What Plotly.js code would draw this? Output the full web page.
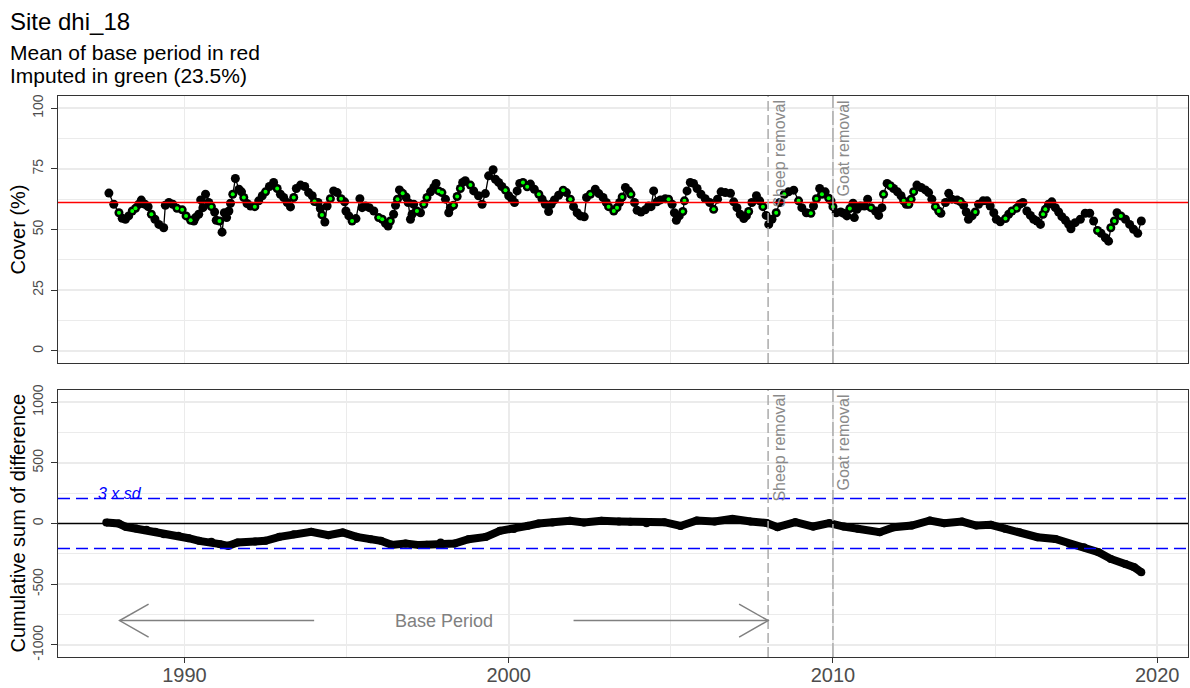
<!DOCTYPE html>
<html><head><meta charset="utf-8">
<script src="https://cdn.plot.ly/plotly-3.0.1.min.js"></script>
<style>html,body{margin:0;padding:0;background:#fff}#chart{width:1190px;height:688px}</style>
</head><body><div id="chart"></div>
<script>
// ---- data ----
const coverDates = [
1987.67,1987.82,1987.98,1988.08,1988.18,1988.28,1988.39,1988.49,1988.59,1988.67,1988.78,1988.88,1988.98,
1989.09,1989.21,1989.36,1989.41,1989.52,1989.64,1989.77,1989.93,1990.05,1990.19,1990.29,1990.34,1990.44,
1990.50,1990.57,1990.65,1990.75,1990.83,1990.93,1990.98,1991.08,1991.16,1991.23,1991.30,1991.37,1991.42,
1991.49,1991.57,1991.68,1991.76,1991.83,1991.93,1992.04,1992.17,1992.29,1992.40,1992.50,1992.62,1992.75,
1992.86,1992.96,1993.06,1993.17,1993.27,1993.37,1993.45,1993.58,1993.71,1993.83,1993.94,1994.01,1994.12,
1994.19,1994.24,1994.33,1994.40,1994.50,1994.60,1994.71,1994.83,1994.94,1994.98,1995.07,1995.17,1995.29,
1995.41,1995.48,1995.58,1995.70,1995.84,1995.99,1996.10,1996.20,1996.28,1996.35,1996.45,1996.51,1996.57,
1996.63,1996.73,1996.83,1996.90,1996.97,1997.02,1997.07,1997.17,1997.28,1997.38,1997.48,1997.59,1997.69,
1997.76,1997.84,1997.94,1998.05,1998.15,1998.20,1998.30,1998.41,1998.51,1998.58,1998.66,1998.82,1998.92,
1999.07,1999.18,1999.28,1999.38,1999.52,1999.59,1999.69,1999.79,1999.90,2000.00,2000.10,2000.18,2000.26,
2000.34,2000.44,2000.57,2000.67,2000.79,2000.93,2001.03,2001.13,2001.23,2001.31,2001.41,2001.54,2001.68,
2001.78,2001.90,2002.00,2002.11,2002.21,2002.33,2002.40,2002.52,2002.67,2002.78,2002.91,2003.01,2003.08,
2003.24,2003.34,2003.42,2003.50,2003.60,2003.70,2003.77,2003.88,2003.96,2004.08,2004.21,2004.32,2004.39,
2004.47,2004.57,2004.68,2004.83,2004.93,2005.04,2005.11,2005.17,2005.26,2005.37,2005.42,2005.50,2005.60,
2005.70,2005.81,2005.93,2006.06,2006.20,2006.32,2006.44,2006.55,2006.68,2006.84,2006.94,2007.04,2007.14,
2007.25,2007.33,2007.40,2007.50,2007.64,2007.74,2007.84,2007.94,2008.02,2008.12,2008.25,2008.36,2008.50,
2008.63,2008.79,2008.94,2009.04,2009.18,2009.32,2009.40,2009.49,2009.59,2009.66,2009.76,2009.87,2009.94,
2010.00,2010.10,2010.24,2010.33,2010.43,2010.52,2010.62,2010.66,2010.74,2010.85,2010.97,2011.07,2011.17,
2011.31,2011.41,2011.51,2011.56,2011.67,2011.77,2011.87,2011.99,2012.10,2012.18,2012.26,2012.34,2012.41,
2012.49,2012.59,2012.72,2012.85,2012.95,2013.05,2013.16,2013.26,2013.33,2013.47,2013.57,2013.67,2013.83,
2013.93,2014.03,2014.11,2014.18,2014.29,2014.39,2014.49,2014.63,2014.75,2014.85,2014.96,2015.04,2015.16,
2015.32,2015.42,2015.52,2015.66,2015.76,2015.86,2015.98,2016.09,2016.19,2016.29,2016.40,2016.48,2016.55,
2016.65,2016.75,2016.86,2016.96,2017.06,2017.17,2017.27,2017.34,2017.47,2017.63,2017.78,2017.92,2018.04,
2018.16,2018.27,2018.40,2018.50,2018.57,2018.68,2018.76,2018.88,2019.02,2019.15,2019.27,2019.40,2019.51];
const coverValues = [
65.0,60.4,56.9,54.6,54.2,55.6,57.6,58.7,60.4,62.1,60.4,59.4,56.3,
54.2,52.1,50.7,60.0,61.1,60.4,58.7,58.1,55.6,53.8,53.5,54.9,56.3,
62.2,59.0,64.5,61.1,59.4,57.2,53.8,53.5,48.9,56.9,54.9,57.6,60.8,
64.5,71.0,66.6,65.5,63.2,60.7,59.7,59.4,61.8,63.9,65.5,67.7,69.4,
66.9,64.5,63.2,61.1,59.3,63.2,66.9,68.3,67.7,65.2,63.9,61.5,61.1,
58.6,56.0,53.1,59.7,62.7,65.9,65.2,62.7,61.4,57.6,55.6,53.5,54.5,
62.7,59.0,59.7,59.0,57.6,54.9,54.2,52.5,51.4,53.5,56.3,60.0,62.5,
66.3,64.9,63.4,61.1,54.2,56.3,60.4,57.6,56.9,60.4,63.2,65.5,67.3,
69.0,65.9,65.2,62.5,56.9,59.0,60.0,63.6,66.9,69.4,70.1,68.3,65.9,
63.9,60.4,64.8,72.1,74.6,70.7,69.4,67.7,66.2,63.9,62.5,61.1,65.9,
69.0,69.4,67.6,68.7,66.6,64.5,62.5,60.4,57.4,60.4,62.2,64.1,66.2,
65.2,62.5,59.4,56.9,55.6,55.2,63.2,64.5,66.6,64.8,63.2,61.1,59.4,
57.6,59.0,61.1,63.4,67.3,65.9,64.5,61.1,57.9,57.2,58.1,59.7,59.4,
65.9,61.4,62.2,62.7,62.5,60.4,56.9,53.8,55.6,57.4,61.8,65.9,69.4,
69.0,66.9,64.5,62.7,61.1,58.3,62.5,65.5,65.2,64.9,61.4,59.0,56.3,
54.5,55.6,57.4,61.1,63.9,61.8,59.4,55.8,52.1,54.2,56.9,61.1,64.5,
65.5,66.2,61.8,59.0,56.9,56.7,59.7,62.7,66.9,64.5,65.5,62.9,61.8,
59.4,56.9,57.2,56.7,55.6,58.6,60.8,54.9,58.3,59.7,59.7,62.5,59.0,
57.6,55.8,59.0,64.5,69.0,68.0,66.9,65.5,63.9,61.8,60.4,60.4,62.5,
65.6,68.3,67.3,66.3,65.2,62.5,59.4,57.6,56.7,61.1,64.9,62.5,62.1,
61.5,60.0,57.2,54.2,55.6,57.2,60.4,61.8,61.8,59.7,56.9,54.2,53.2,
54.5,56.3,57.6,58.7,60.4,61.1,57.6,55.8,54.2,53.5,52.1,56.3,58.3,
60.4,61.4,59.0,57.2,55.3,53.8,52.1,50.3,52.8,54.2,56.7,56.7,53.5,
49.6,48.4,46.6,45.2,50.7,53.5,56.9,55.6,54.2,52.1,50.1,48.4,53.5];
const imputedFlags = [
0,0,1,0,0,0,1,1,0,0,0,0,1,
0,0,0,0,0,0,1,1,1,1,0,0,0,
0,0,0,0,1,0,0,1,0,0,0,0,0,
1,0,0,0,1,0,0,1,0,0,1,0,0,
1,0,0,0,0,1,0,0,0,0,0,1,0,
0,1,0,0,1,0,0,1,0,0,0,1,0,
0,0,0,0,0,1,1,0,0,1,0,0,1,
0,1,0,0,0,0,0,1,0,1,1,0,0,
0,1,1,0,0,0,1,1,1,0,0,1,0,
0,0,0,0,0,0,0,0,1,0,0,0,0,
0,1,1,0,0,1,0,0,0,0,0,0,1,
0,1,0,0,0,0,0,1,0,0,0,0,1,
1,1,0,1,0,0,1,0,0,0,0,0,0,
0,0,0,0,1,0,0,0,0,1,1,0,0,
0,0,0,0,0,1,0,0,0,0,0,0,0,
0,0,1,0,0,0,1,0,0,0,1,0,1,
0,0,1,0,0,1,0,1,0,1,0,1,0,
1,0,0,0,0,1,0,0,0,0,0,0,1,
0,0,0,1,0,1,0,0,0,1,0,1,1,
1,0,0,0,0,0,1,1,0,0,0,0,0,
1,0,0,0,0,1,0,0,0,0,0,0,0,
1,0,1,1,0,0,0,0,0,0,0,1,1,
0,0,0,0,0,0,0,0,0,0,0,0,0,
1,0,0,0,1,1,0,1,0,0,0,0,0];
const cusumDates = [
1987.59,1987.97,1988.19,1988.51,1988.83,1989.10,1989.37,1989.81,1990.13,1990.45,1990.83,1991.10,1991.35,
1991.64,1992.18,1992.50,1992.93,1993.37,1993.91,1994.44,1994.88,1995.31,1995.74,1996.06,1996.39,1996.82,
1997.25,1997.47,1997.90,1998.33,1998.76,1999.30,1999.73,2000.16,2000.59,2000.92,2001.35,2001.89,2002.32,
2002.86,2003.40,2003.75,2004.25,2004.80,2005.30,2005.80,2006.35,2006.90,2007.46,2007.95,2008.29,2008.84,
2009.39,2009.89,2010.33,2010.77,2011.44,2011.88,2012.43,2012.99,2013.43,2013.98,2014.42,2014.87,2015.31,
2015.75,2016.31,2016.86,2017.30,2017.74,2018.19,2018.57,2019.02,2019.29,2019.51];
const cusumValues = [
8,0,-27,-41,-52,-68,-88,-101,-121,-143,-151,-170,-184,
-156,-148,-143,-110,-88,-68,-96,-74,-110,-129,-143,-176,-165,
-178,-176,-156,-165,-129,-110,-60,-46,-19,0,8,22,8,
22,17,15,3,11,-20,25,16,38,16,5,-30,11,
-25,3,-25,-44,-72,-30,-17,25,3,16,-17,-11,-44,
-72,-113,-127,-168,-196,-237,-292,-333,-360,-402];
const baseMean = 61.1;          // mean of base period (red line)
const sdLimit = 206;            // 3 x sd (blue dashed lines)
const basePeriod = [1988, 2008];
const eventLabels = ['Sheep removal', 'Goat removal'];
const eventYears = [2008, 2010];
const xTickVals = [1990, 2000, 2010, 2020];
const xTickText = ['1990', '2000', '2010', '2020'];
const coverTickVals = [0, 25, 50, 75, 100];
const coverTickText = ['0', '25', '50', '75', '100'];
const cusumTickVals = [-1000, -500, 0, 500, 1000];
const cusumTickText = ['-1000', '-500', '0', '500', '1000'];

// ---- style ----
const FONT = 'Liberation Sans, Arial, sans-serif';
const GRID = '#ebebeb';
const BORDER = '#333333';
const TICKTXT = '#4d4d4d';
const EVENTCOL = '#ababab';
const LABELCOL = '#8a8a8a';
const arrowY = -800;
const textGap = 4;  // years between label centre and arrow shaft ends

const impX = coverDates.filter((d, i) => imputedFlags[i] === 1);
const impY = coverValues.filter((d, i) => imputedFlags[i] === 1);

const traces = [
  {x: coverDates, y: coverValues, xaxis: 'x', yaxis: 'y', mode: 'lines+markers', type: 'scatter',
   line: {color: '#000', width: 1.3}, marker: {color: '#000', size: 9}, hoverinfo: 'skip'},
  {x: impX, y: impY, xaxis: 'x', yaxis: 'y', mode: 'markers', type: 'scatter',
   marker: {color: '#00ff00', size: 4}, hoverinfo: 'skip'},
  {x: cusumDates, y: cusumValues, xaxis: 'x2', yaxis: 'y2', mode: 'lines+markers', type: 'scatter',
   line: {color: '#000', width: 8}, marker: {color: '#000', size: 8}, hoverinfo: 'skip'}
];

const xCommon = {
  range: [1986.1, 2020.95], showgrid: true, gridcolor: GRID, gridwidth: 1.8,
  tickmode: 'array', tickvals: xTickVals, ticktext: xTickText,
  minor: {dtick: 5, tick0: 1985, showgrid: true, gridcolor: GRID, gridwidth: 1},
  showline: true, linecolor: BORDER, linewidth: 1, mirror: true, zeroline: false
};
const yCommon = {
  showgrid: true, gridcolor: GRID, gridwidth: 1.8, tickmode: 'array',
  showline: true, linecolor: BORDER, linewidth: 1, mirror: true, zeroline: false,
  ticks: 'outside', ticklen: 6, tickwidth: 1, tickcolor: BORDER, tickangle: -90,
  tickfont: {family: FONT, size: 14, color: TICKTXT}, ticklabelstandoff: 2
};

const shapes = [];
shapes.push({type: 'line', xref: 'x domain', x0: 0, x1: 1, yref: 'y', y0: baseMean, y1: baseMean,
  line: {color: '#ff0000', width: 1.5}});
shapes.push({type: 'line', xref: 'x2 domain', x0: 0, x1: 1, yref: 'y2', y0: 0, y1: 0,
  line: {color: '#000', width: 1.3}});
[sdLimit, -sdLimit].forEach(v => shapes.push({type: 'line', xref: 'x2 domain', x0: 0, x1: 1, yref: 'y2',
  y0: v, y1: v, line: {color: '#0000ff', width: 1.5, dash: '12px,6px'}}));
eventYears.forEach((yr, i) => {
  ['', '2'].forEach(s => shapes.push({type: 'line', xref: 'x' + s, x0: yr, x1: yr,
    yref: 'y' + s + ' domain', y0: 0, y1: 1,
    line: {color: EVENTCOL, width: 1.5, dash: i === 0 ? '10px,4px' : '14px,3px'}}));
});
const mid = (basePeriod[0] + basePeriod[1]) / 2;
shapes.push({type: 'line', xref: 'x2', yref: 'y2', x0: basePeriod[0], x1: mid - textGap, y0: arrowY, y1: arrowY,
  line: {color: '#808080', width: 1.5}});
shapes.push({type: 'line', xref: 'x2', yref: 'y2', x0: mid + textGap, x1: basePeriod[1], y0: arrowY, y1: arrowY,
  line: {color: '#808080', width: 1.5}});
shapes.push({type: 'path', xref: 'x2', yref: 'y2', xsizemode: 'pixel', ysizemode: 'pixel',
  xanchor: basePeriod[0], yanchor: arrowY, path: 'M29,16.5L0,0L29,-16.5', line: {color: '#808080', width: 1.5}});
shapes.push({type: 'path', xref: 'x2', yref: 'y2', xsizemode: 'pixel', ysizemode: 'pixel',
  xanchor: basePeriod[1], yanchor: arrowY, path: 'M-29,16.5L0,0L-29,-16.5', line: {color: '#808080', width: 1.5}});

const annotations = [];
annotations.push({xref: 'paper', yref: 'paper', x: 0, xshift: -50, xanchor: 'left', y: 1, yshift: 44,
  yanchor: 'middle', showarrow: false, text: 'Mean of base period in red', font: {family: FONT, size: 21, color: '#000'}});
annotations.push({xref: 'paper', yref: 'paper', x: 0, xshift: -50, xanchor: 'left', y: 1, yshift: 20.5,
  yanchor: 'middle', showarrow: false, text: 'Imputed in green (23.5%)', font: {family: FONT, size: 21, color: '#000'}});
annotations.push({xref: 'paper', x: 0, xshift: -40, xanchor: 'center', yref: 'y domain', y: 0.5, yanchor: 'middle',
  textangle: -90, showarrow: false, text: 'Cover (%)', font: {family: FONT, size: 20, color: '#000'}});
annotations.push({xref: 'paper', x: 0, xshift: -40, xanchor: 'center', yref: 'y2 domain', y: 0.5, yanchor: 'middle',
  textangle: -90, showarrow: false, text: 'Cumulative sum of difference', font: {family: FONT, size: 20, color: '#000'}});
eventYears.forEach((yr, i) => {
  ['', '2'].forEach(s => annotations.push({xref: 'x' + s, x: yr, xanchor: 'left', yref: 'y' + s + ' domain', y: 1,
    yshift: -2, yanchor: 'top', textangle: -90, showarrow: false, text: eventLabels[i],
    font: {family: FONT, size: 16, color: LABELCOL}}));
});
annotations.push({xref: 'x2', yref: 'y2', x: basePeriod[0], y: sdLimit, xanchor: 'center', yanchor: 'bottom', yshift: -5,
  showarrow: false, text: '<i>3 x sd</i>', font: {family: FONT, size: 16, color: '#0000ff'}});
annotations.push({xref: 'x2', yref: 'y2', x: mid, y: arrowY, xanchor: 'center', yanchor: 'middle',
  showarrow: false, text: 'Base Period', font: {family: FONT, size: 18, color: '#808080'}});

const layout = {
  width: 1190, height: 688, autosize: false,
  paper_bgcolor: '#fff', plot_bgcolor: '#fff',
  margin: {l: 58, r: 2, t: 96, b: 31},
  showlegend: false, hovermode: false,
  font: {family: FONT},
  title: {text: 'Site dhi_18', xref: 'container', yref: 'container', x: 10 / 1190, xanchor: 'left',
    y: 1 - 22 / 688, yanchor: 'middle', font: {family: FONT, size: 24, color: '#000'}},
  xaxis: Object.assign({}, xCommon, {anchor: 'y', showticklabels: false, ticks: ''}),
  xaxis2: Object.assign({}, xCommon, {anchor: 'y2', matches: 'x', ticks: 'outside', ticklen: 5, tickwidth: 1,
    tickcolor: BORDER, ticklabelstandoff: -5, tickfont: {family: FONT, size: 20, color: TICKTXT}}),
  yaxis: Object.assign({}, yCommon, {domain: [0.5241, 1], anchor: 'x', range: [-5, 105],
    tickvals: coverTickVals, ticktext: coverTickText,
    minor: {dtick: 12.5, tick0: 0, showgrid: true, gridcolor: GRID, gridwidth: 1}}),
  yaxis2: Object.assign({}, yCommon, {domain: [0, 0.4759], anchor: 'x2', range: [-1100, 1100],
    tickvals: cusumTickVals, ticktext: cusumTickText,
    minor: {dtick: 250, tick0: 0, showgrid: true, gridcolor: GRID, gridwidth: 1}}),
  shapes: shapes,
  annotations: annotations
};

Plotly.newPlot('chart', traces, layout, {displayModeBar: false, staticPlot: true});
</script>
</body></html>
